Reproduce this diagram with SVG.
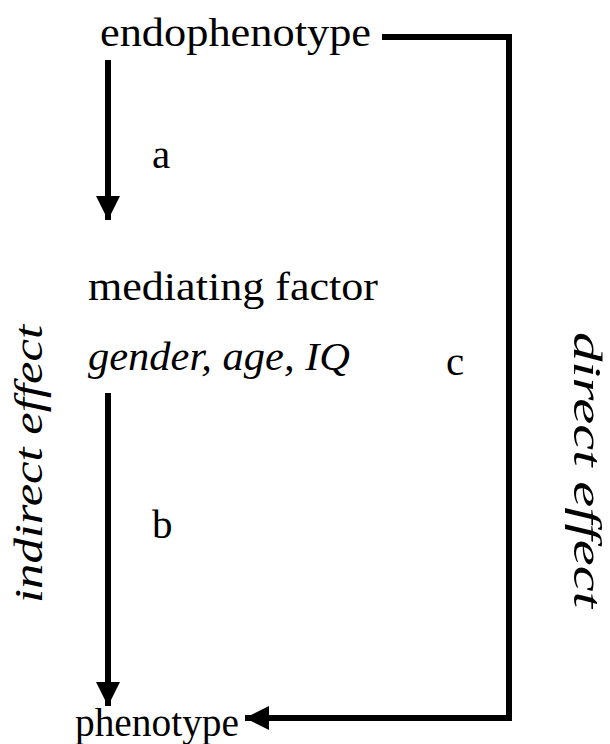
<svg xmlns="http://www.w3.org/2000/svg" width="610" height="744" viewBox="0 0 610 744">
<style>
text{font-family:"Liberation Serif","Times New Roman",Times,serif;font-size:41px;fill:#000}
.it{font-style:italic}
.ln{fill:none;stroke:#000;stroke-width:6}
</style>
<defs>
<marker id="ah" viewBox="0 0 10 10" refX="10" refY="5" markerWidth="4" markerHeight="4" orient="auto" markerUnits="strokeWidth">
<path d="M0,0 L10,5 L0,10 Z" fill="#000"/>
</marker>
</defs>
<rect width="610" height="744" fill="#fff"/>
<g id="endophenotype"><text x="100" y="46" textLength="271" lengthAdjust="spacingAndGlyphs">endophenotype</text></g>
<g id="mediator"><text x="88" y="300" textLength="290" lengthAdjust="spacingAndGlyphs">mediating factor</text>
<text class="it" x="88" y="370" textLength="262" lengthAdjust="spacingAndGlyphs">gender, age, IQ</text></g>
<g id="phenotype"><text x="75" y="736" textLength="164" lengthAdjust="spacingAndGlyphs">phenotype</text></g>
<g id="labels">
<text x="152" y="168">a</text>
<text x="152" y="538">b</text>
<text x="446" y="375">c</text>
<text class="it" transform="translate(42,464) rotate(-90)" text-anchor="middle" textLength="278" lengthAdjust="spacingAndGlyphs">indirect effect</text>
<text class="it" transform="translate(574,470) rotate(90)" text-anchor="middle" textLength="276" lengthAdjust="spacingAndGlyphs">direct effect</text>
</g>
<g id="connectors">
<line class="ln" x1="108" y1="60" x2="108" y2="220" marker-end="url(#ah)"/>
<line class="ln" x1="108" y1="393" x2="108" y2="706" marker-end="url(#ah)"/>
<polyline class="ln" points="382,37 509,37 509,718 245,718" marker-end="url(#ah)"/>
</g>
</svg>
